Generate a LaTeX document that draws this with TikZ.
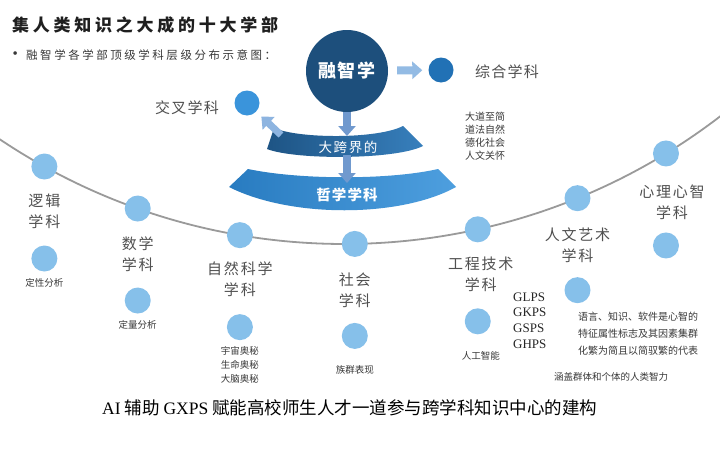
\documentclass[tikz,border=0pt]{standalone}
\usepackage{fontspec}
\setmainfont{Noto Sans CJK SC}
\newfontfamily\lserif{Liberation Serif}
\usepackage{xcolor}
\usetikzlibrary{positioning,arrows.meta,calc}

\definecolor{navy}{HTML}{1D4F7C}
\definecolor{midblue}{HTML}{2171B5}
\definecolor{brightblue}{HTML}{3A94DB}
\definecolor{pale}{HTML}{86C0EA}
\definecolor{arcgray}{HTML}{9A9A9A}
\definecolor{labgray}{HTML}{505050}
\definecolor{txtgray}{HTML}{383838}
\definecolor{arrblue}{HTML}{7099CE}
\definecolor{arrlight}{HTML}{9CC3EA}

\tikzset{
  dot/.style={
    shape = circle,
    fill = pale,
    minimum size = 26pt,
    inner sep = 0
  },
  cat/.style={
    align = center,
    inner sep = 0,
    text = labgray,
    font = \fontsize{15}{21}\selectfont\addfontfeatures{LetterSpace=12}
  },
  small/.style={
    align = center,
    inner sep = 0,
    text = txtgray,
    font = \fontsize{9.5}{14}\selectfont
  },
  note/.style={
    anchor = west,
    inner sep = 0,
    text = txtgray,
    font = \fontsize{10}{12}\selectfont
  },
  gx/.style={
    anchor = west,
    inner sep = 0,
    text = black!85,
    font = \lserif\fontsize{13}{15}\selectfont
  },
  bandtxt/.style={
    inner sep = 0,
    text = white
  },
  fatarrow/.style={
    draw = arrblue,
    line width = 8pt,
    -{Triangle[length=10pt,width=17pt]}
  },
  arcline/.style={
    draw = arcgray,
    line width = 1.8pt
  }
}

\begin{document}
\begin{tikzpicture}[x=1pt,y=-1pt]
    \fill[white] (0,0) rectangle (720,450);
    \useasboundingbox (0,0) rectangle (720,450);
    % heading
    \node[anchor=west, inner sep=0, text=black!88,
      font=\fontsize{17}{20}\selectfont\bfseries\addfontfeatures{LetterSpace=22}]
      (title) at (12,25) {集人类知识之大成的十大学部};
    \node[anchor=west, inner sep=0, text=txtgray,
      font=\fontsize{11.5}{14}\selectfont\addfontfeatures{LetterSpace=22}]
      (subtitle) at (26,55) {融智学各学部顶级学科层级分布示意图：};
    \node[inner sep=0, text=txtgray, font=\lserif\fontsize{15}{16}\selectfont,
      left=8pt of subtitle] (bullet) {•};
    % big arc
    \coordinate (arcc) at (344,-374);
    \draw[arcline] ([shift={(127:618)}]arcc) arc[start angle=127, end angle=50, radius=618];
    % top part
    \node[circle, fill=navy, minimum size=82pt, inner sep=0, text=white,
      font=\fontsize{18}{20}\selectfont\bfseries\addfontfeatures{LetterSpace=10}]
      (rzx) at (347,71) {融智学};
    \node[circle, fill=midblue, minimum size=25pt, inner sep=0] (zh) at (441,70) {};
    \node[anchor=west, inner sep=0, text=labgray,
      font=\fontsize{15}{18}\selectfont\addfontfeatures{LetterSpace=8}]
      (zhtxt) at (475,72) {综合学科};
    \node[circle, fill=brightblue, minimum size=25pt, inner sep=0] (jc) at (247,103) {};
    \node[anchor=west, inner sep=0, text=labgray,
      font=\fontsize{15}{18}\selectfont\addfontfeatures{LetterSpace=8}]
      (jctxt) at (155,108) {交叉学科};
    % the two bands
    \shade[left color=navy!85!midblue, right color=midblue!90!white]
      (274,128) .. controls (300,139) and (378,139) .. (403,126) -- (423,146)
      .. controls (395,160) and (295,160) .. (267,149) -- cycle;
    \shade[left color=midblue!70!brightblue, right color=brightblue!90!white]
      (248,169) .. controls (300,180) and (390,180) .. (438,169) -- (456,187)
      .. controls (400,218) and (290,218) .. (229,187) -- cycle;
    \node[bandtxt, font=\fontsize{13.5}{15}\selectfont\addfontfeatures{LetterSpace=12}]
      (kj) at (348,147) {大跨界的};
    \node[bandtxt, font=\fontsize{14.5}{16}\selectfont\bfseries\addfontfeatures{LetterSpace=8}]
      (zx) at (347,195) {哲学学科};
    \coordinate (kjtop) at (347,136);
    \coordinate (kjbot) at (347,155);
    \coordinate (zxtop) at (347,183);
    \coordinate (kjleft) at (281,135);
    \draw[fatarrow] (rzx.south) -- (kjtop);
    \draw[fatarrow] (kjbot) -- (zxtop);
    \draw[fatarrow, draw=arrlight!80!arrblue, shorten <=9pt, shorten >=6pt] (rzx) -- (zh);
    \draw[fatarrow, draw=arrlight!65!arrblue, line width=7pt, shorten >=7pt] (kjleft) -- (jc);
    \foreach \t [count=\i] in {大道至简,道法自然,德化社会,人文关怀}{
        \node[note] (dd\i) at (465,104+13*\i) {\t};
    }
    % ten-ish disciplines on the arc
    \foreach \a/\n in {119/lj, 109.5/sx, 99.7/zr, 89/sh, 77.5/gc, 67.8/rw, 58.6/xl}{
        \node[dot] (u\n) at ([shift={(\a:618)}]arcc) {};
        \node[dot] (d\n) at ([shift={(0,92)}]u\n) {};
    }
    \node[cat, below=14pt of ulj] (tlj) {逻辑\\学科};
    \node[cat, below=15pt of usx] (tsx) {数学\\学科};
    \node[cat, below=13pt of uzr] (tzr) {自然科学\\学科};
    \node[cat, below=16pt of ush] (tsh) {社会\\学科};
    \node[cat, below=14pt of ugc, xshift=3pt] (tgc) {工程技术\\学科};
    \node[cat, below=16pt of urw] (trw) {人文艺术\\学科};
    \node[cat, below=18pt of uxl, xshift=6pt] (txl) {心理心智\\学科};
    \node[small, below=7pt of dlj] (slj) {定性分析};
    \node[small, below=7pt of dsx] (ssx) {定量分析};
    \node[small, below=6pt of dzr] (szr) {宇宙奥秘\\生命奥秘\\大脑奥秘};
    \node[small, below=16pt of dsh] (ssh) {族群表现};
    \node[small, below=17pt of dgc, xshift=3pt] (sgc) {人工智能};
    \foreach \t [count=\i] in {GLPS,GKPS,GSPS,GHPS}{
        \node[gx] (g\i) at (513,281.3+15.7*\i) {\t};
    }
    \foreach \t [count=\i] in {语言、知识、软件是心智的,特征属性标志及其因素集群,化繁为简且以简驭繁的代表}{
        \node[note] (yy\i) at (578,300+17*\i) {\t};
    }
    \node[small] (hg) at (611,377) {涵盖群体和个体的人类智力};
    % caption
    \node[anchor=west, inner sep=0, text=black, font=\fontsize{17.5}{20}\selectfont]
      (caption) at (102,408) {{\lserif AI} 辅助 {\lserif GXPS} 赋能高校师生人才一道参与跨学科知识中心的建构};
\end{tikzpicture}
\end{document}
